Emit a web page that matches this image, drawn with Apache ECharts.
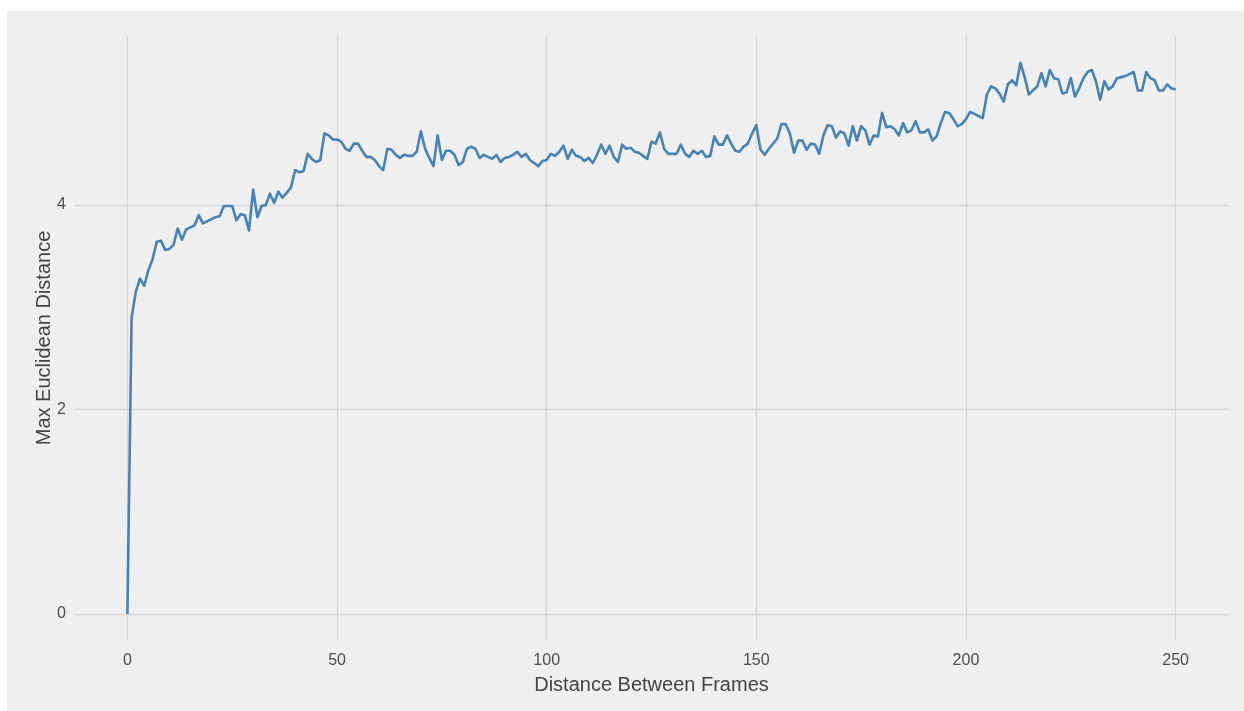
<!DOCTYPE html>
<html>
<head>
<meta charset="utf-8">
<style>
  html, body { margin: 0; padding: 0; background: #ffffff; }
  #chart { position: absolute; left: 7px; top: 11px; width: 1237px; height: 700px; background: #efefef; }
</style>
<script src="https://cdn.jsdelivr.net/npm/echarts@6/dist/echarts.min.js"></script>
</head>
<body>
<div id="chart"></div>
<script>
// Frame gap (0..250) and the largest Euclidean distance observed at that gap
const frameGaps = Array.from({ length: 251 }, (_, i) => i);
const maxDistance = [
  0.00, 2.90, 3.15, 3.28, 3.21, 3.36, 3.47, 3.64, 3.65, 3.56,
  3.57, 3.61, 3.77, 3.66, 3.76, 3.78, 3.80, 3.90, 3.82, 3.84,
  3.86, 3.88, 3.89, 3.99, 3.99, 3.99, 3.85, 3.91, 3.90, 3.75,
  4.15, 3.88, 3.99, 4.00, 4.11, 4.02, 4.13, 4.07, 4.12, 4.17,
  4.34, 4.32, 4.33, 4.50, 4.45, 4.42, 4.44, 4.70, 4.68, 4.64,
  4.64, 4.62, 4.55, 4.53, 4.60, 4.60, 4.53, 4.47, 4.47, 4.44,
  4.38, 4.34, 4.55, 4.54, 4.49, 4.46, 4.49, 4.48, 4.48, 4.52,
  4.72, 4.55, 4.46, 4.38, 4.68, 4.44, 4.53, 4.53, 4.49, 4.39,
  4.42, 4.55, 4.57, 4.55, 4.46, 4.49, 4.47, 4.45, 4.49, 4.42,
  4.46, 4.47, 4.49, 4.52, 4.47, 4.50, 4.44, 4.41, 4.38, 4.43,
  4.44, 4.50, 4.48, 4.52, 4.58, 4.45, 4.54, 4.48, 4.47, 4.43,
  4.46, 4.41, 4.49, 4.59, 4.50, 4.58, 4.47, 4.42, 4.59, 4.55,
  4.56, 4.52, 4.51, 4.48, 4.45, 4.62, 4.60, 4.71, 4.55, 4.50,
  4.50, 4.50, 4.59, 4.50, 4.47, 4.53, 4.50, 4.53, 4.47, 4.48,
  4.67, 4.59, 4.59, 4.68, 4.60, 4.53, 4.52, 4.57, 4.60, 4.70,
  4.78, 4.54, 4.49, 4.55, 4.60, 4.65, 4.79, 4.79, 4.70, 4.51,
  4.63, 4.63, 4.54, 4.60, 4.59, 4.50, 4.68, 4.78, 4.77, 4.66,
  4.72, 4.70, 4.58, 4.77, 4.63, 4.77, 4.73, 4.59, 4.68, 4.67,
  4.90, 4.76, 4.77, 4.74, 4.68, 4.80, 4.71, 4.73, 4.82, 4.71,
  4.71, 4.74, 4.63, 4.67, 4.80, 4.91, 4.90, 4.84, 4.77, 4.79,
  4.84, 4.91, 4.89, 4.87, 4.85, 5.08, 5.16, 5.14, 5.09, 5.01,
  5.18, 5.22, 5.17, 5.39, 5.25, 5.08, 5.12, 5.16, 5.29, 5.16,
  5.32, 5.24, 5.23, 5.09, 5.10, 5.24, 5.06, 5.14, 5.24, 5.30,
  5.32, 5.21, 5.03, 5.21, 5.13, 5.16, 5.24, 5.25, 5.26, 5.28,
  5.30, 5.12, 5.12, 5.30, 5.24, 5.22, 5.12, 5.12, 5.18, 5.14,
  5.13
];
const xTicks = [0, 50, 100, 150, 200, 250];
const yTicks = [0, 2, 4];

const FONT = '"Liberation Sans", Arial, sans-serif';
const GRID_COLOR = '#d6d6d6';

const chart = echarts.init(document.getElementById('chart'), null, { renderer: 'canvas' });
chart.setOption({
  backgroundColor: '#efefef',
  animation: false,
  grid: { left: 68, right: 16, top: 24, bottom: 70, containLabel: false },
  xAxis: {
    type: 'value',
    min: -12.5,
    max: 262.5,
    name: 'Distance Between Frames',
    nameLocation: 'middle',
    nameGap: 34,
    nameMoveOverlap: false,
    nameTextStyle: { fontFamily: FONT, fontSize: 20, color: '#444444' },
    axisLine: { show: false },
    axisTick: { show: false, customValues: xTicks },
    axisLabel: { customValues: xTicks, margin: 12, fontFamily: FONT, fontSize: 16, color: '#4d4d4d' },
    splitLine: { show: true, lineStyle: { color: GRID_COLOR, width: 1.3 } }
  },
  yAxis: {
    type: 'value',
    min: -0.264,
    max: 5.662,
    name: 'Max Euclidean Distance',
    nameLocation: 'middle',
    nameGap: 21,
    nameMoveOverlap: false,
    nameTextStyle: { fontFamily: FONT, fontSize: 20, color: '#444444' },
    axisLine: { show: false },
    axisTick: { show: false, customValues: yTicks },
    axisLabel: { customValues: yTicks, margin: 9, fontFamily: FONT, fontSize: 16, color: '#4d4d4d' },
    splitLine: { show: true, lineStyle: { color: GRID_COLOR, width: 1.3 } }
  },
  series: [{
    type: 'line',
    data: frameGaps.map((g, i) => [g, maxDistance[i]]),
    showSymbol: false,
    symbol: 'none',
    lineStyle: { color: '#4682b4', width: 2.6, join: 'round' }
  }]
});
</script>
</body>
</html>
